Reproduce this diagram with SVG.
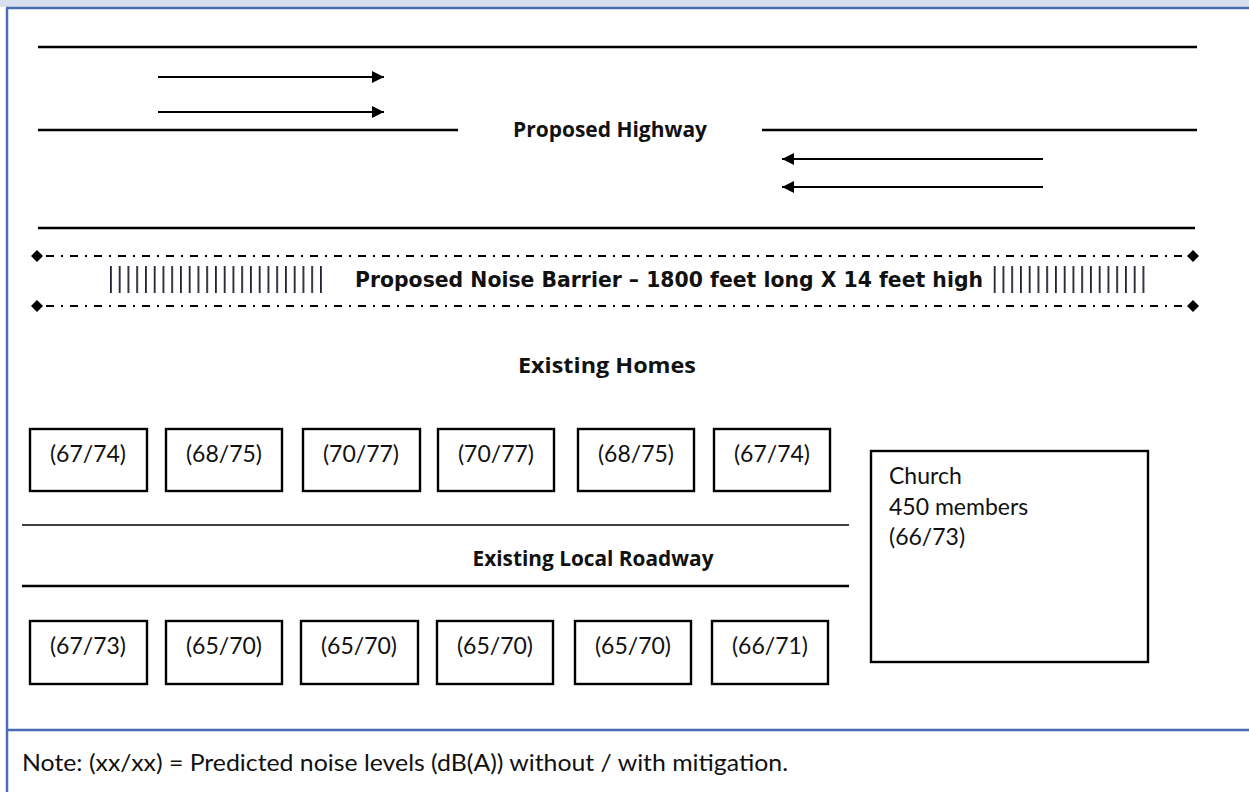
<svg xmlns="http://www.w3.org/2000/svg" width="1249" height="792" viewBox="0 0 1249 792">
<defs>
<marker id="arr" viewBox="0 0 10 10" refX="10" refY="5" markerWidth="14" markerHeight="12" markerUnits="userSpaceOnUse" orient="auto">
<path d="M0,0 L10,5 L0,10 Z" fill="#000"/>
</marker>
<marker id="dia" viewBox="0 0 10 10" refX="5" refY="5" markerWidth="12" markerHeight="12" markerUnits="userSpaceOnUse">
<path d="M5,0 L10,5 L5,10 L0,5 Z" fill="#000"/>
</marker>
<pattern id="bars" x="110" y="0" width="8.75" height="10" patternUnits="userSpaceOnUse">
<rect x="0" y="0" width="1.8" height="10" fill="#222233"/>
</pattern>
</defs>
<style>
.frame{stroke:#4A6CB4;stroke-width:2.5;fill:none}
.road{stroke:#000;stroke-width:2.5;fill:none}
.arrow{stroke:#000;stroke-width:2;fill:none;marker-end:url(#arr)}
.dd{stroke:#000;stroke-width:2;fill:none;stroke-dasharray:2 7 8 7;marker-start:url(#dia);marker-end:url(#dia)}
.box{fill:#fff;stroke:#000;stroke-width:2.4}
.lbl{font-family:Lato,"Open Sans","Liberation Sans",sans-serif;font-size:23px;fill:#111}
.bold{font-family:"Open Sans",Lato,"Liberation Sans",sans-serif;font-weight:bold;font-size:21px;fill:#111}
.tah{font-family:"DejaVu Sans","Liberation Sans",sans-serif;font-weight:bold;font-size:22px;fill:#111}
</style>
<rect x="0" y="0" width="1249" height="792" fill="#fff"/>
<rect x="0" y="0" width="1249" height="7" fill="#D9DFEF"/>
<g id="frame">
<line class="frame" x1="6" y1="8" x2="1249" y2="8"/>
<line class="frame" x1="7" y1="8" x2="7" y2="792"/>
<line class="frame" x1="7" y1="730" x2="1249" y2="730"/>
</g>
<g id="highway">
<line class="road" x1="38" y1="47" x2="1197" y2="47"/>
<line class="road" x1="38" y1="130" x2="458" y2="130"/>
<line class="road" x1="762" y1="130" x2="1197" y2="130"/>
<line class="road" x1="38" y1="228" x2="1195" y2="228"/>
<text class="bold" x="610" y="137" text-anchor="middle" textLength="194" lengthAdjust="spacingAndGlyphs">Proposed Highway</text>
</g>
<g id="connectors">
<line class="arrow" x1="158" y1="77" x2="384" y2="77"/>
<line class="arrow" x1="158" y1="112" x2="384" y2="112"/>
<line class="arrow" x1="1043" y1="159" x2="782" y2="159"/>
<line class="arrow" x1="1043" y1="187" x2="782" y2="187"/>
</g>
<g id="barrier">
<line class="dd" x1="37" y1="256" x2="1193" y2="256"/>
<line class="dd" x1="37" y1="306" x2="1193" y2="306"/>
<rect x="110" y="266" width="213" height="27" fill="url(#bars)"/>
<rect x="993" y="266" width="152" height="27" fill="url(#bars)"/>
<text class="tah" x="355" y="287" textLength="628" lengthAdjust="spacingAndGlyphs">Proposed Noise Barrier – 1800 feet long X 14 feet high</text>
</g>
<text class="bold" x="607" y="373" text-anchor="middle" textLength="178" lengthAdjust="spacingAndGlyphs">Existing Homes</text>
<g id="homes-row1">
<g id="h1"><rect class="box" x="30" y="429" width="117" height="62"/><text class="lbl" x="88" y="462" text-anchor="middle">(67/74)</text></g>
<g id="h2"><rect class="box" x="166" y="429" width="116" height="62"/><text class="lbl" x="224" y="462" text-anchor="middle">(68/75)</text></g>
<g id="h3"><rect class="box" x="303" y="429" width="117" height="62"/><text class="lbl" x="361" y="462" text-anchor="middle">(70/77)</text></g>
<g id="h4"><rect class="box" x="438" y="429" width="116" height="62"/><text class="lbl" x="496" y="462" text-anchor="middle">(70/77)</text></g>
<g id="h5"><rect class="box" x="578" y="429" width="116" height="62"/><text class="lbl" x="636" y="462" text-anchor="middle">(68/75)</text></g>
<g id="h6"><rect class="box" x="714" y="429" width="116" height="62"/><text class="lbl" x="772" y="462" text-anchor="middle">(67/74)</text></g>
</g>
<g id="local-road">
<line stroke="#000" stroke-width="1.6" x1="22" y1="525" x2="849" y2="525"/>
<line class="road" x1="22" y1="586" x2="849" y2="586"/>
<text class="bold" x="593" y="566" text-anchor="middle" textLength="241" lengthAdjust="spacingAndGlyphs">Existing Local Roadway</text>
</g>
<g id="homes-row2">
<g id="h7"><rect class="box" x="30" y="621" width="117" height="63"/><text class="lbl" x="88" y="654" text-anchor="middle">(67/73)</text></g>
<g id="h8"><rect class="box" x="166" y="621" width="116" height="63"/><text class="lbl" x="224" y="654" text-anchor="middle">(65/70)</text></g>
<g id="h9"><rect class="box" x="301" y="621" width="117" height="63"/><text class="lbl" x="359" y="654" text-anchor="middle">(65/70)</text></g>
<g id="h10"><rect class="box" x="437" y="621" width="116" height="63"/><text class="lbl" x="495" y="654" text-anchor="middle">(65/70)</text></g>
<g id="h11"><rect class="box" x="575" y="621" width="116" height="63"/><text class="lbl" x="633" y="654" text-anchor="middle">(65/70)</text></g>
<g id="h12"><rect class="box" x="712" y="621" width="116" height="63"/><text class="lbl" x="770" y="654" text-anchor="middle">(66/71)</text></g>
</g>
<g id="church">
<rect class="box" x="871" y="451" width="277" height="211"/>
<text class="lbl" x="889" y="484">Church</text>
<text class="lbl" x="889" y="515">450 members</text>
<text class="lbl" x="889" y="545">(66/73)</text>
</g>
<text class="lbl" x="22" y="771" textLength="766" lengthAdjust="spacingAndGlyphs">Note: (xx/xx) = Predicted noise levels (dB(A)) without / with mitigation.</text>
</svg>
